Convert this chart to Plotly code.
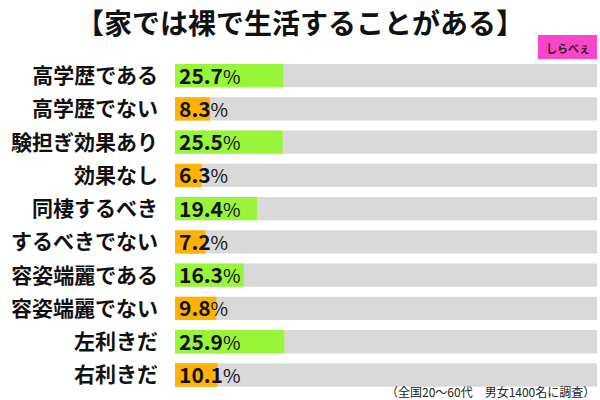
import plotly.graph_objects as go

categories = ["高学歴である", "高学歴でない", "験担ぎ効果あり", "効果なし", "同棲するべき",
              "するべきでない", "容姿端麗である", "容姿端麗でない", "左利きだ", "右利きだ"]
values = [25.7, 8.3, 25.5, 6.3, 19.4, 7.2, 16.3, 9.8, 25.9, 10.1]
bar_colors = ["#99f53a", "#ffb200"] * 5
title_text = "【家では裸で生活することがある】"
note_text = "（全国20～60代　男女1400名に調査）"

FONT = "Noto Sans CJK JP"
L, R, T, B = 175, 597, 59, 393
W, H = R - L, B - T

def px(x):
    return (x - L) / W

def py(y):
    return (B - y) / H

fig = go.Figure()
fig.add_trace(go.Bar(y=categories, x=[100] * len(categories), orientation="h",
                     marker=dict(color="#d9d9d9", line=dict(width=0)),
                     hoverinfo="skip", showlegend=False))
fig.add_trace(go.Bar(y=categories, x=values, orientation="h",
                     marker=dict(color=bar_colors, line=dict(width=0)),
                     showlegend=False))

for c, v in zip(categories, values):
    fig.add_annotation(x=0, y=c, xref="x", yref="y", xanchor="left", yanchor="middle",
                       xshift=2, yshift=1, showarrow=False,
                       text=f"<b>{v:.1f}</b><span style='font-size:19px'>%</span>",
                       font=dict(family=FONT, size=21, color="#111111"))

fig.update_layout(
    width=600, height=400,
    margin=dict(l=L, r=600 - R, t=T, b=400 - B, autoexpand=False),
    paper_bgcolor="white", plot_bgcolor="white",
    barmode="overlay", bargap=0.3,
    xaxis=dict(range=[0, 100], visible=False, fixedrange=True),
    yaxis=dict(autorange="reversed", showgrid=False, zeroline=False, showline=False,
               ticks="", ticklabelstandoff=16, fixedrange=True,
               tickfont=dict(family=FONT, size=21, color="#111111", weight="bold")),
    font=dict(family=FONT),
)

# title
fig.add_annotation(xref="paper", yref="paper", x=px(300), y=py(22),
                   xanchor="center", yanchor="middle", showarrow=False,
                   text=f"<b>{title_text}</b>",
                   font=dict(family=FONT, size=28, color="#111111"))
# logo
fig.add_shape(type="rect", xref="paper", yref="paper",
              x0=px(538), x1=px(597), y0=py(59), y1=py(35),
              fillcolor="#ff44cc", line=dict(width=0))
fig.add_annotation(xref="paper", yref="paper", x=px(568), y=py(48),
                   xanchor="center", yanchor="middle", showarrow=False,
                   text="<b>しらべぇ</b>", font=dict(family=FONT, size=11, color="#222222"))
# footnote
fig.add_annotation(xref="paper", yref="paper", x=1, y=py(391),
                   xanchor="right", yanchor="middle", showarrow=False,
                   text=note_text, font=dict(family=FONT, size=12, color="#222222"))

fig.write_html("out.html", config={"displayModeBar": False},
               post_script="document.body.style.margin='0';")
